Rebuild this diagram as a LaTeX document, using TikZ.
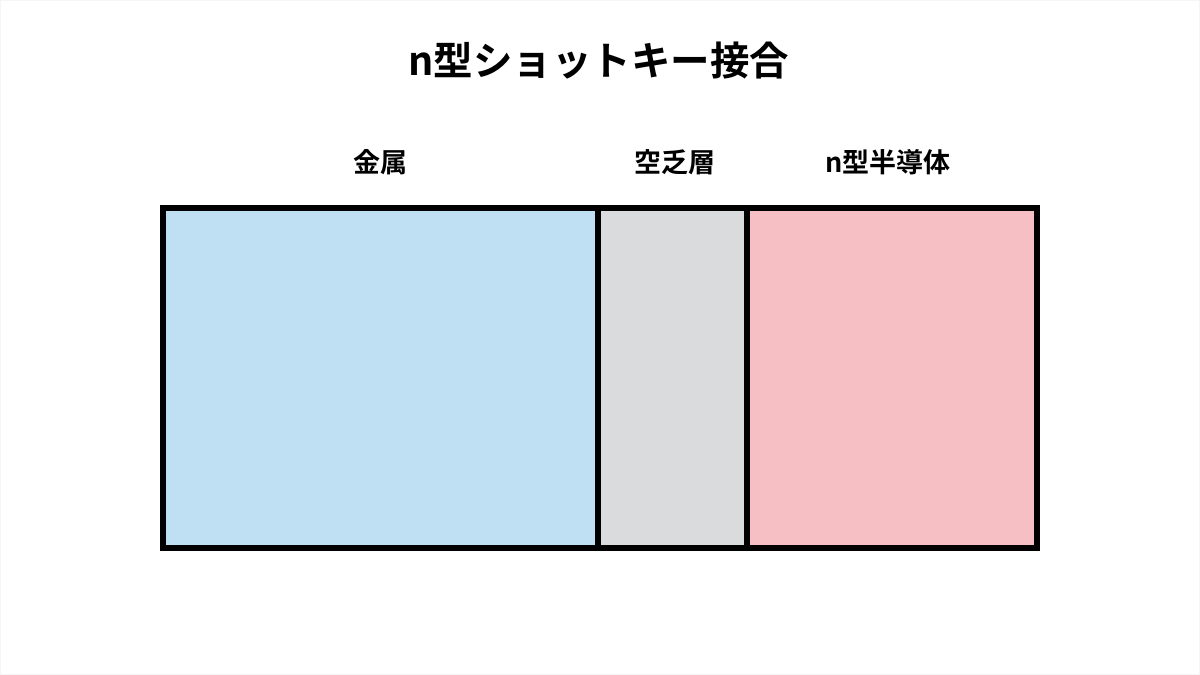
\documentclass[tikz,border=0pt]{standalone}
\usepackage{fontspec}
\newfontfamily\jp{Noto Sans CJK JP Bold}
\definecolor{metalblue}{HTML}{BFDFF2}
\definecolor{depgray}{HTML}{DADBDD}
\definecolor{semipink}{HTML}{F6BFC4}
\begin{document}
\begin{tikzpicture}[x=1pt,y=-1pt,
  region/.style={rectangle,draw=black,line width=6pt,inner sep=0pt,outer sep=0pt,
    minimum height=340pt,anchor=center},
  lbl/.style={font=\jp\fontsize{27}{30}\selectfont,inner sep=0pt,anchor=center},
  ttl/.style={font=\jp\fontsize{39.5}{44}\selectfont,inner sep=0pt,anchor=center}]
\useasboundingbox (0,0) rectangle (1200,675);
\draw[gray!8,line width=1pt] (0.5,0.5) rectangle (1199.5,674.5);
\node[region,fill=metalblue,minimum width=435pt] (metal) at (380.5,378) {};
\node[region,fill=depgray,minimum width=149pt] (dep) at (672.5,378) {};
\node[region,fill=semipink,minimum width=290pt] (semi) at (892,378) {};
\draw[line width=6pt,line join=miter] (metal.north west) rectangle (semi.south east);
\node[ttl] (title) at (599,61) {n型ショットキー接合};
\node[lbl] (lmetal) at (380,162) {金属};
\node[lbl] (ldep) at (675,162) {空乏層};
\node[lbl] (lsemi) at (888,162) {n型半導体};
\end{tikzpicture}
\end{document}
